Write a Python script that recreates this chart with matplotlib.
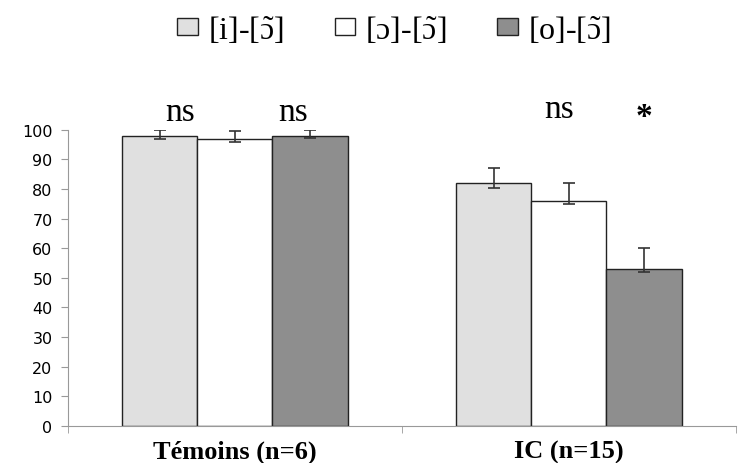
import numpy as np
import matplotlib
matplotlib.use('Agg')
import matplotlib.pyplot as plt

plt.rcParams['mathtext.fontset'] = 'custom'
plt.rcParams['mathtext.rm'] = 'Liberation Serif'
plt.rcParams['mathtext.it'] = 'Liberation Serif:italic'
plt.rcParams['mathtext.bf'] = 'Liberation Serif:bold'

SERIF = ['Liberation Serif', 'DejaVu Serif']

# donnees
groups = ['Témoins (n=6)', 'IC (n=15)']
nasal = r'$\tilde{\mathrm{ɔ}}$'
series = ['[i]-[' + nasal + ']', '[ɔ]-[' + nasal + ']', '[o]-[' + nasal + ']']
values = [[98, 82], [97, 76], [98, 53]]
err_low = [[1, 1.5], [1, 1], [0.8, 1]]
err_high = [[2, 5], [2.7, 6], [2, 7]]
colors = ['#e0e0e0', '#ffffff', '#8e8e8e']

# annotations de significativite (groupe, decalage, hauteur, texte)
annots = [(0, -0.165, 106, 'ns'), (0, 0.175, 106, 'ns'),
          (1, -0.03, 107, 'ns'), (1, 0.225, 104.5, '*')]

fig = plt.figure(figsize=(7.38, 4.64), dpi=100)
ax = fig.add_axes([0.092, 0.080, 0.905, 0.638])

x = np.arange(len(groups))
w = 0.225
for k in range(len(series)):
    ax.bar(x + (k - 1) * w, values[k], w, color=colors[k], edgecolor='#222222',
           linewidth=1.0, label=series[k], zorder=2)
    ax.errorbar(x + (k - 1) * w, values[k], yerr=[err_low[k], err_high[k]],
                fmt='none', ecolor='#333333', elinewidth=1.2, capsize=4,
                capthick=1.2, zorder=3)

for g, dx, yy, txt in annots:
    ax.text(x[g] + dx, yy, txt, ha='center', va='center', fontsize=24,
            family=SERIF, fontweight='bold' if txt == '*' else 'normal',
            clip_on=False)

ax.set_xlim(-0.5, len(groups) - 0.5)
ax.set_ylim(0, 100)
ax.set_yticks(range(0, 101, 10))
ax.set_xticks(x)
ax.set_xticklabels(groups, family=SERIF, fontsize=19, fontweight='bold')
ax.set_xticks(np.arange(-0.5, len(groups), 1), minor=True)
ax.tick_params(axis='x', which='major', length=0, pad=10)
ax.tick_params(axis='x', which='minor', length=5, color='#999999')
ax.tick_params(axis='y', length=5, color='#999999', labelsize=11.5, pad=6)

for s in ['top', 'right']:
    ax.spines[s].set_visible(False)
for s in ['left', 'bottom']:
    ax.spines[s].set_color('#999999')

fig.legend(loc='upper center', bbox_to_anchor=(0.534, 1.03), ncol=3, frameon=False,
           prop={'family': SERIF, 'size': 23},
           handlelength=0.65, handleheight=0.45, handletextpad=0.3,
           columnspacing=1.6)

fig.savefig('out.png', dpi=100)
